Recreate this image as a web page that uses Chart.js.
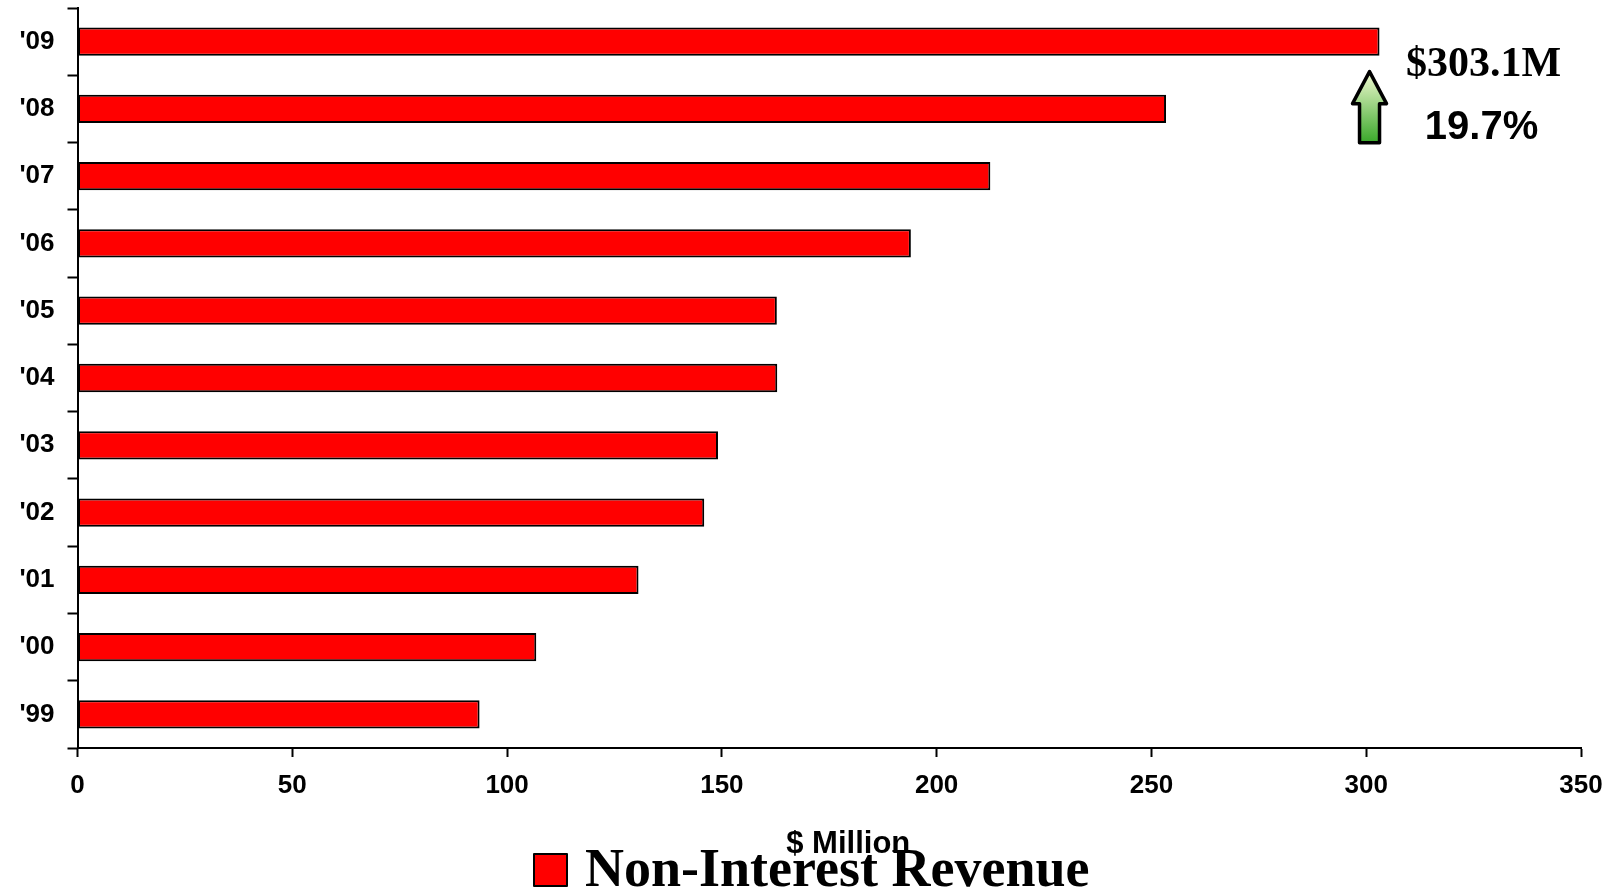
<!DOCTYPE html>
<html>
<head>
<meta charset="utf-8">
<script src="https://cdn.jsdelivr.net/npm/chart.js@4/dist/chart.umd.min.js"></script>
<style>
  html, body { margin: 0; padding: 0; background: #fff; }
  #wrap { width: 1617px; height: 893px; position: relative; }
</style>
</head>
<body>
<div id="wrap"><canvas id="c"></canvas></div>
<script>
// ─── DATA ────────────────────────────────────────────────────────────────────
const years = ["'09", "'08", "'07", "'06", "'05", "'04", "'03", "'02", "'01", "'00", "'99"];
const revenue = [303.1, 253.4, 212.5, 194.0, 162.8, 162.9, 149.1, 145.9, 130.6, 106.8, 93.6];
const xTicks = [0, 50, 100, 150, 200, 250, 300, 350];
const seriesName = 'Non-Interest Revenue';
const axisTitle = '$ Million';
const calloutValue = '$303.1M';
const calloutGrowth = '19.7%';

const SANS = "'Liberation Sans', Arial, sans-serif";
const SERIF = "'Liberation Serif', 'Times New Roman', serif";

// ─── OVERLAY: axis title, callout arrow, legend ─────────────────────────────
const overlay = {
  id: 'overlay',
  afterDraw(chart) {
    const { ctx } = chart;
    const x = chart.scales.x, y = chart.scales.y;
    ctx.save();
    ctx.fillStyle = '#000';

    // x axis title
    ctx.textAlign = 'center';
    ctx.textBaseline = 'alphabetic';
    ctx.font = `bold 31px ${SANS}`;
    ctx.fillText(axisTitle, (x.left + x.right) / 2 + 19, 853);

    // callout next to top bar
    const px = x.getPixelForValue(revenue[0]);
    const cy = y.getPixelForValue(0);
    ctx.font = `bold 42px ${SERIF}`;
    ctx.fillText(calloutValue, px + 104, cy + 34);
    ctx.font = `bold 40px ${SANS}`;
    ctx.fillText(calloutGrowth, px + 102, cy + 97);

    // up arrow
    const ax = px - 10, ay = cy + 30;
    const g = ctx.createLinearGradient(0, ay, 0, ay + 71);
    g.addColorStop(0, '#f2fad2');
    g.addColorStop(1, '#3aa82a');
    ctx.beginPath();
    ctx.moveTo(ax, ay);
    ctx.lineTo(ax + 17, ay + 32);
    ctx.lineTo(ax + 10, ay + 32);
    ctx.lineTo(ax + 10, ay + 71);
    ctx.lineTo(ax - 10, ay + 71);
    ctx.lineTo(ax - 10, ay + 32);
    ctx.lineTo(ax - 17, ay + 32);
    ctx.closePath();
    ctx.fillStyle = g;
    ctx.fill();
    ctx.lineWidth = 3.5;
    ctx.lineJoin = 'round';
    ctx.strokeStyle = '#000';
    ctx.stroke();

    // legend
    const lx = 534, ly = 854;
    ctx.fillStyle = '#ff0000';
    ctx.fillRect(lx, ly, 33, 32);
    ctx.lineWidth = 2;
    ctx.strokeRect(lx, ly, 33, 32);
    ctx.fillStyle = '#000';
    ctx.textAlign = 'left';
    ctx.font = `bold 54px ${SERIF}`;
    ctx.fillText(seriesName, 585, 886);

    ctx.restore();
  }
};

// ─── CHART ───────────────────────────────────────────────────────────────────
new Chart(document.getElementById('c'), {
  type: 'bar',
  data: {
    labels: years,
    datasets: [{
      label: seriesName,
      data: revenue,
      backgroundColor: '#ff0000',
      borderColor: '#000',
      borderWidth: 2,
      borderSkipped: false,
      barPercentage: 0.42,
      categoryPercentage: 1.0,
    }]
  },
  options: {
    indexAxis: 'y',
    responsive: true,
    maintainAspectRatio: false,
    animation: false,
    devicePixelRatio: 1,
    layout: { padding: { top: 8, right: 36, left: 0, bottom: 0 } },
    plugins: { legend: { display: false }, tooltip: { enabled: false } },
    scales: {
      x: {
        type: 'linear',
        min: 0, max: 350,
        afterBuildTicks: s => { s.ticks = xTicks.map(v => ({ value: v })); },
        afterFit: s => { s.height = 145; s.paddingLeft = 0; s.paddingRight = 0; },
        border: { color: '#000', width: 2 },
        grid: { drawOnChartArea: false, drawTicks: true, tickLength: 9, tickColor: '#000', tickWidth: 2 },
        ticks: { color: '#000', font: { family: SANS, size: 26, weight: 'bold' }, padding: 13, maxRotation: 0 },
      },
      y: {
        afterFit: s => { s.width = 77.5; s.paddingTop = 0; s.paddingBottom = 0; },
        border: { color: '#000', width: 2 },
        grid: { drawOnChartArea: false, drawTicks: true, tickLength: 10, tickColor: '#000', tickWidth: 2, offset: true },
        ticks: { color: '#000', font: { family: SANS, size: 26, weight: 'bold' }, padding: 13 },
      }
    }
  },
  plugins: [overlay]
});
</script>
</body>
</html>
